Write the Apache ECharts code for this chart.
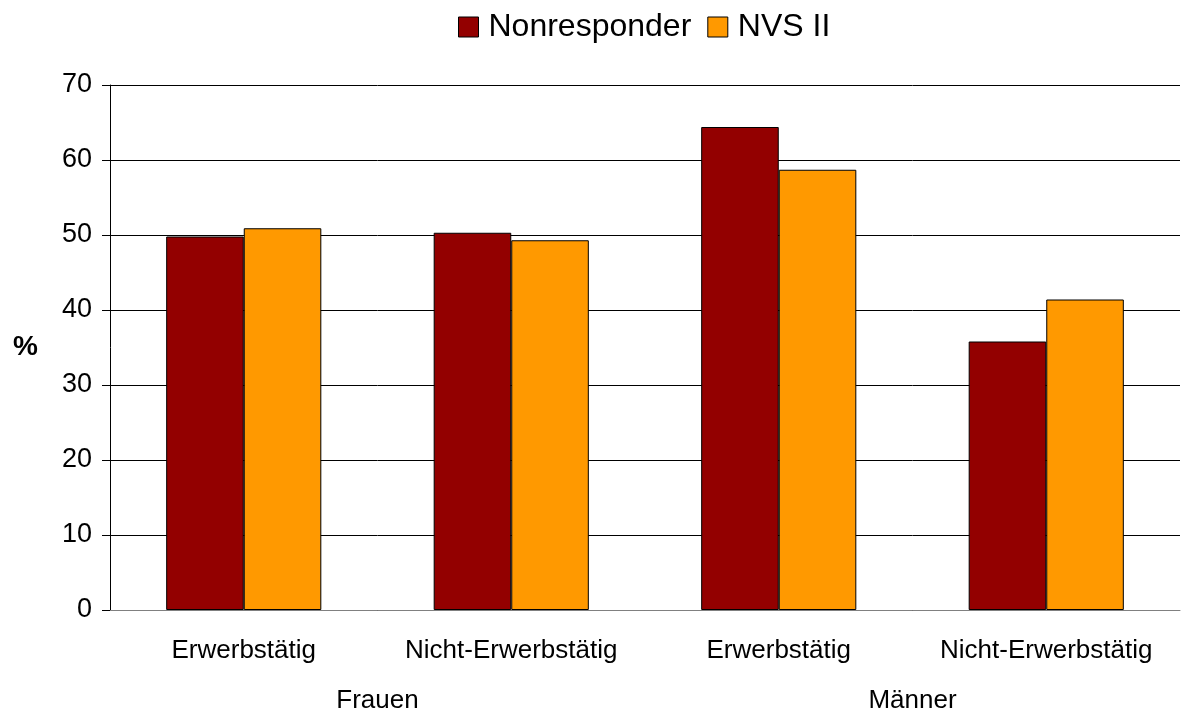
<!DOCTYPE html>
<html>
<head>
<meta charset="utf-8">
<script src="https://cdn.jsdelivr.net/npm/echarts@6/dist/echarts.min.js"></script>
<style>
  html, body { margin: 0; padding: 0; background: #fff; }
  #chart { width: 1181px; height: 714px; }
</style>
</head>
<body>
<div id="chart"></div>
<script>
// Daten
var categories = ['Erwerbstätig', 'Nicht-Erwerbstätig', 'Erwerbstätig', 'Nicht-Erwerbstätig'];
var groups = ['Frauen', 'Männer'];
var nonresponder = [49.8, 50.3, 64.4, 35.8];
var nvs2 = [50.9, 49.3, 58.7, 41.4];
var yTicks = [0, 10, 20, 30, 40, 50, 60, 70];

var font = 'Liberation Sans, Arial, sans-serif';
var chart = echarts.init(document.getElementById('chart'));

var option = {
    animation: false,
    textStyle: { fontFamily: font },
    legend: {
        top: 6,
        left: 453,
        icon: 'rect',
        itemWidth: 20,
        itemHeight: 20,
        itemGap: 16,
        itemStyle: { borderColor: '#000', borderWidth: 1 },
        textStyle: { fontSize: 32, color: '#000', fontFamily: font, padding: [0, 0, 0, 5] },
        data: ['Nonresponder', 'NVS II']
    },
    grid: { left: 110, right: 1, top: 85, bottom: 103 },
    xAxis: [
        {
            type: 'category',
            data: categories,
            axisLine: { lineStyle: { color: '#808080', width: 1 } },
            axisTick: { show: false },
            axisLabel: { fontSize: 26, color: '#000', margin: 28, fontFamily: font, interval: 0 }
        },
        {
            type: 'category',
            data: groups,
            position: 'bottom',
            offset: 0,
            axisLine: { show: false },
            axisTick: { show: false },
            axisLabel: { fontSize: 26, color: '#000', margin: 78, fontFamily: font }
        }
    ],
    yAxis: {
        type: 'value',
        min: 0,
        max: 70,
        interval: 10,
        name: '%',
        nameLocation: 'middle',
        nameRotate: 0,
        nameGap: 72,
        nameTextStyle: { fontSize: 28, fontWeight: 'bold', color: '#000', fontFamily: font },
        axisLine: { show: true, lineStyle: { color: '#000', width: 1 } },
        axisTick: { show: true, length: 8, lineStyle: { color: '#000' } },
        axisLabel: {
            fontSize: 27, color: '#000', margin: 18, fontFamily: font,
            formatter: function (v) { return yTicks.indexOf(v) >= 0 ? String(v) : ''; }
        },
        splitLine: { lineStyle: { color: '#000', width: 1 } }
    },
    series: [
        {
            name: 'Nonresponder',
            type: 'bar',
            data: nonresponder,
            barGap: '0%',
            barCategoryGap: '42%',
            itemStyle: { color: '#930000', borderColor: '#000', borderWidth: 1 }
        },
        {
            name: 'NVS II',
            type: 'bar',
            data: nvs2,
            itemStyle: { color: '#FF9900', borderColor: '#000', borderWidth: 1 }
        }
    ]
};
chart.setOption(option);
</script>
</body>
</html>
